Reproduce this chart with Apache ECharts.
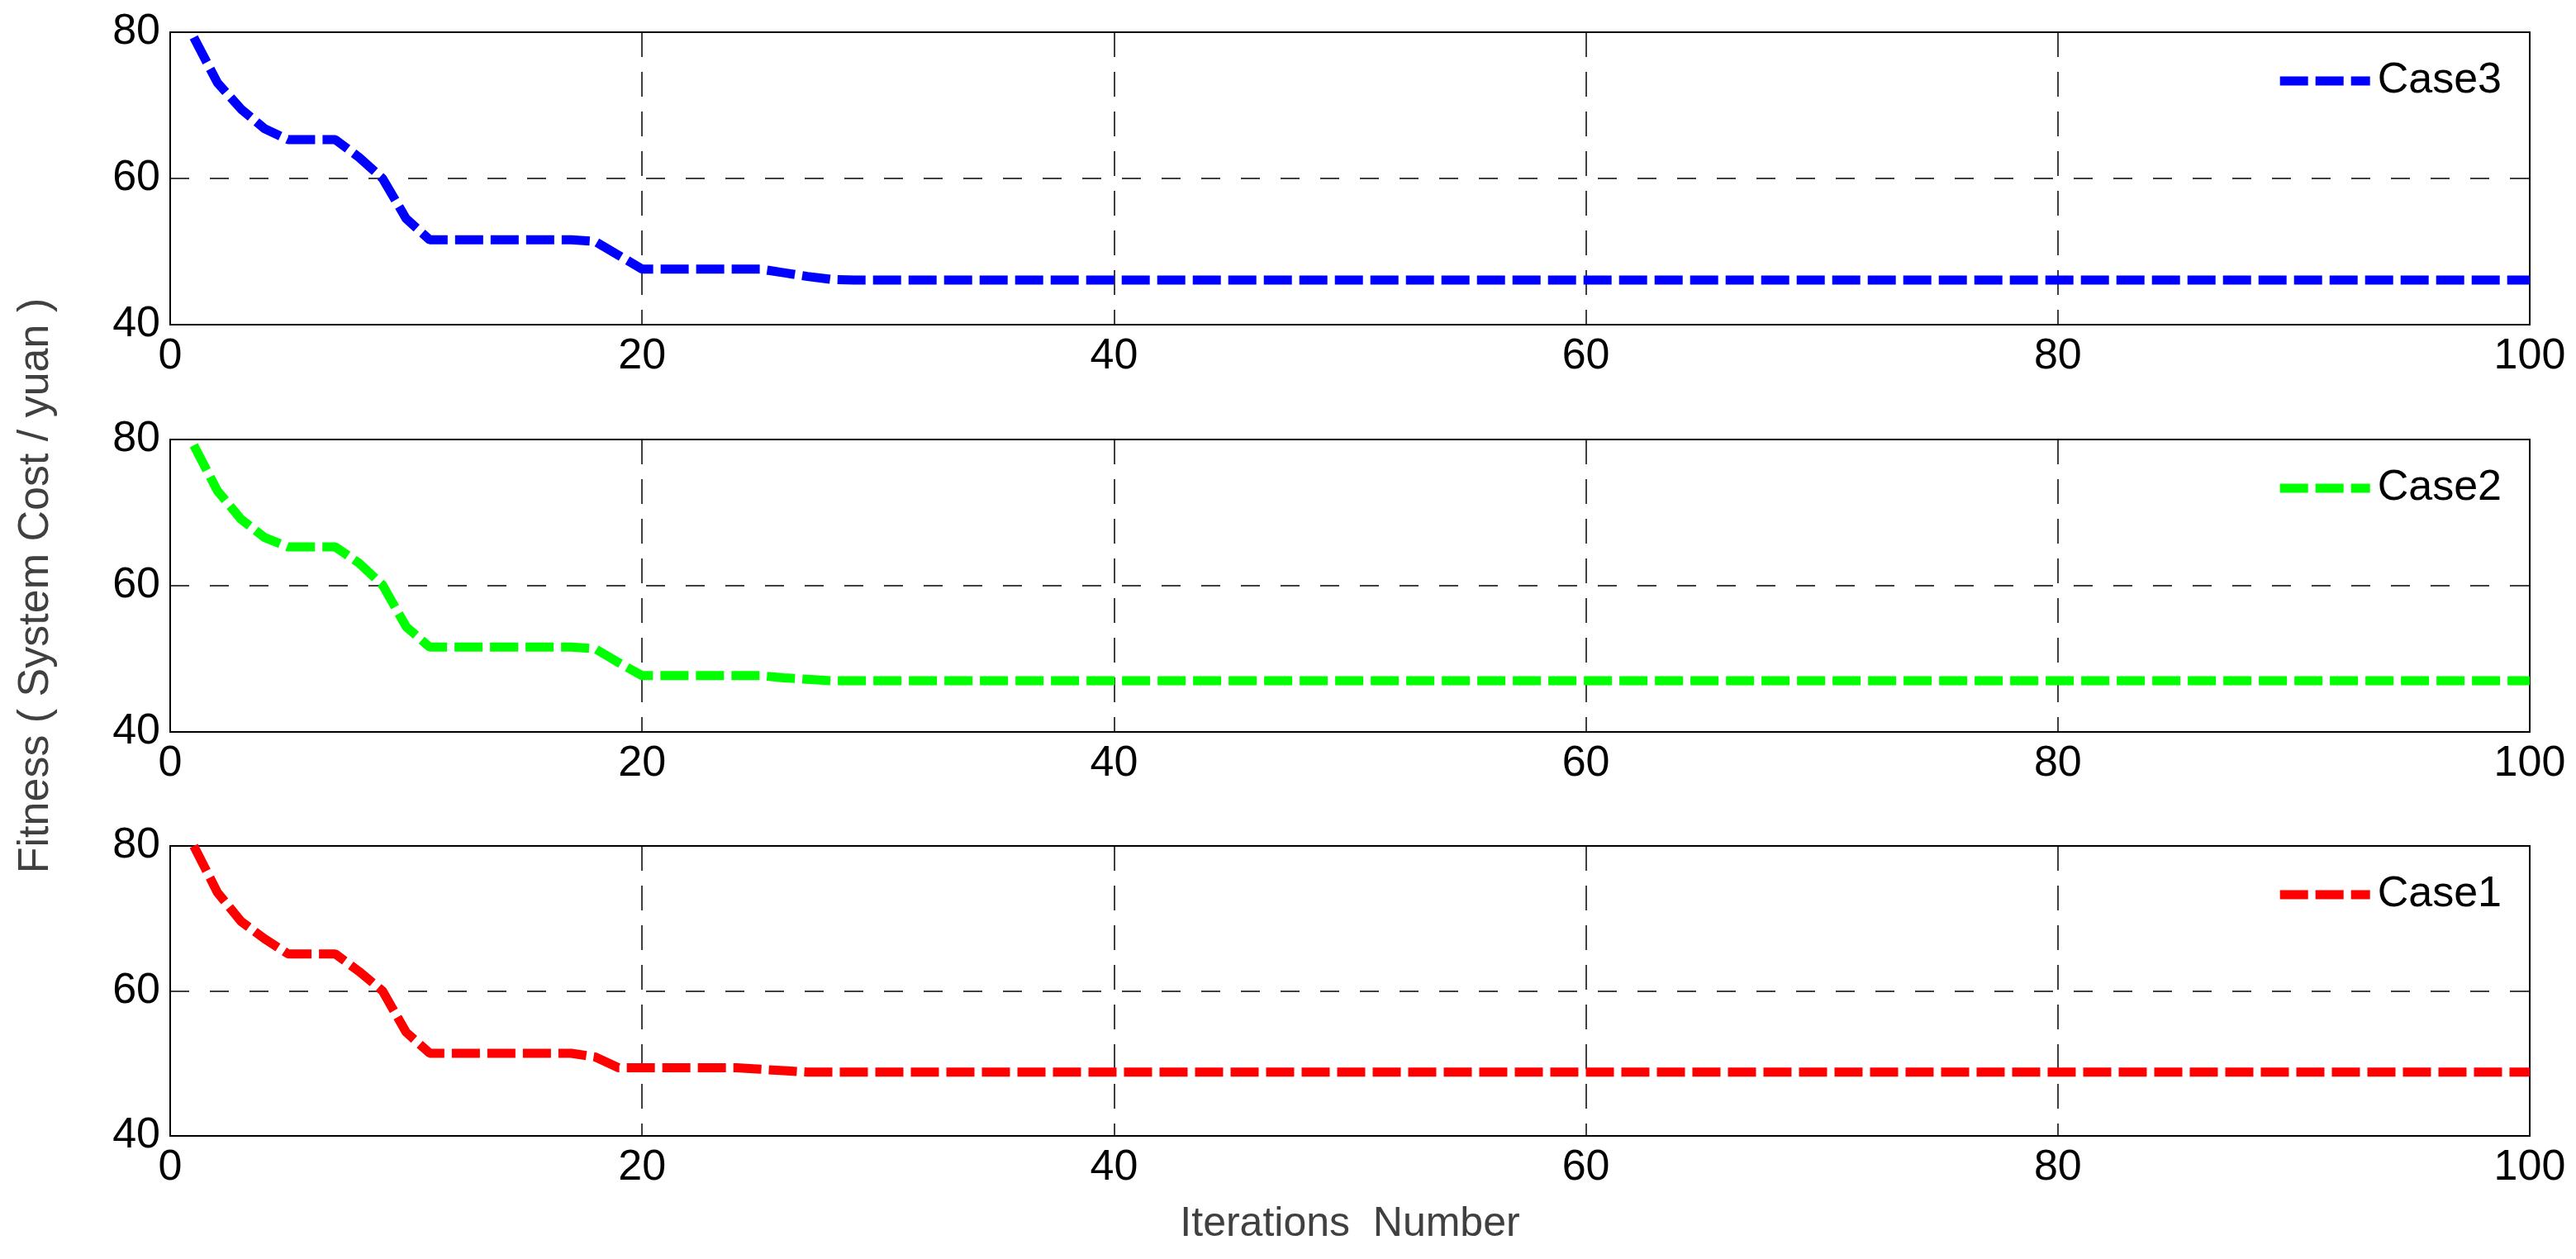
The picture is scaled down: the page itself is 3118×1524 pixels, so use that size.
<!DOCTYPE html>
<html>
<head>
<meta charset="utf-8">
<script src="https://cdn.jsdelivr.net/npm/echarts@6/dist/echarts.min.js"></script>
<style>
html,body{margin:0;padding:0;background:#fff;}
#chart{width:3118px;height:1524px;}
</style>
</head>
<body>
<div id="chart"></div>
<script>
// ---- data ----
const iterations = [1,2,3,4,5,6,7,8,9,10,11,12,13,14,15,16,17,18,19,20,21,22,23,24,25,26,27,28,29,30,100];
const case3 = [79.3,73.1,69.5,66.8,65.3,65.3,65.3,62.9,60.0,54.5,51.6,51.6,51.6,51.6,51.6,51.6,51.6,51.4,49.5,47.6,47.6,47.6,47.6,47.6,47.6,47.1,46.6,46.2,46.1,46.1,46.1];
const case2 = [79.2,73.0,69.1,66.6,65.3,65.3,65.3,63.1,60.1,54.4,51.6,51.6,51.6,51.6,51.6,51.6,51.6,51.4,49.5,47.7,47.7,47.7,47.7,47.7,47.7,47.4,47.2,47.0,47.0,47.0,47.0];
const case1 = [80.0,73.6,69.6,67.2,65.1,65.1,65.1,62.7,60.0,54.3,51.4,51.4,51.4,51.4,51.4,51.4,51.4,50.9,49.4,49.4,49.4,49.4,49.4,49.4,49.2,49.0,48.8,48.8,48.8,48.8,48.8];
const seriesNames = ['Case3','Case2','Case1'];
const seriesColors = ['#0000FF','#00FF00','#FF0000'];
const seriesValues = [case3, case2, case1];
const xTicks = {min:0, max:100, interval:20};
const yTicks = {min:40, max:80, interval:20};
const xTitle = 'Iterations  Number';
const yTitle = 'Fitness ( System Cost / yuan )';

// ---- layout ----
const FONT = "'Liberation Sans', Arial, Helvetica, sans-serif";
const grids = [
  {left:206, right:56, top:39, height:354},
  {left:206, right:56, top:532, height:354},
  {left:206, right:56, top:1024, height:351}
];
// dashed legend swatch (3 dashes, like the plotted line)
const legendIcon = 'path://M0,0H34V11H0Z M43,0H77V11H43Z M86,0H109V11H86Z';

const option = {
  animation:false,
  backgroundColor:'#fff',
  grid: grids.map(g => Object.assign({show:true, borderColor:'#000', borderWidth:2, backgroundColor:'transparent'}, g)),
  legend: seriesNames.map((n,i) => ({
    data:[{name:n, icon:legendIcon}],
    right:90,
    top: grids[i].top + 59 - 26,
    padding:0,
    itemWidth:109,
    itemHeight:11,
    selectedMode:false,
    textStyle:{fontSize:52, color:'#000', fontFamily:FONT, padding:[0,0,0,4]}
  })),
  xAxis: grids.map((g,i) => ({
    type:'value', gridIndex:i, min:xTicks.min, max:xTicks.max, interval:xTicks.interval,
    axisLine:{show:false}, axisTick:{show:false},
    axisLabel:{fontSize:52, color:'#000', fontFamily:FONT, margin:13},
    splitLine:{show:true, lineStyle:{color:'#000', width:1.5, type:[30,18]}},
    name: i===2 ? xTitle : '',
    nameLocation:'middle', nameGap:82,
    nameTextStyle:{fontSize:50, color:'#404040', fontFamily:FONT}
  })),
  yAxis: grids.map((g,i) => ({
    type:'value', gridIndex:i, min:yTicks.min, max:yTicks.max, interval:yTicks.interval,
    axisLine:{show:false}, axisTick:{show:false},
    axisLabel:{fontSize:52, color:'#000', fontFamily:FONT, margin:12},
    splitLine:{show:true, lineStyle:{color:'#000', width:1.5, type:[23,25]}},
    name: i===1 ? yTitle : '',
    nameLocation:'middle', nameGap:136,
    nameTextStyle:{fontSize:52, color:'#404040', fontFamily:FONT}
  })),
  series: seriesNames.map((n,i) => ({
    name:n, type:'line', xAxisIndex:i, yAxisIndex:i,
    data: iterations.map((x,k) => [x, seriesValues[i][k]]),
    symbol:'none', smooth:false,
    lineStyle:{color:seriesColors[i], width:11, type:[34,9], cap:'butt'},
    itemStyle:{color:seriesColors[i]},
    emphasis:{disabled:true}
  }))
};

const chart = echarts.init(document.getElementById('chart'), null, {renderer:'canvas'});
chart.setOption(option);
</script>
</body>
</html>
